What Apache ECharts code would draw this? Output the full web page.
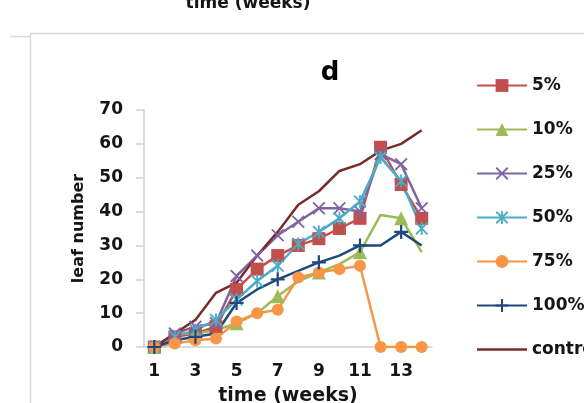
<!DOCTYPE html>
<html><head><meta charset="utf-8">
<script src="https://cdn.jsdelivr.net/npm/echarts@6/dist/echarts.min.js"></script>
<style>html,body{margin:0;padding:0;background:#fff}#c{width:584px;height:403px}</style>
</head><body><div id="c"></div>
<script>
// ---- data ----
const weeks = ['1','2','3','4','5','6','7','8','9','10','11','12','13','14'];
const seriesNames = ['5%','10%','25%','50%','75%','100%','control'];
const s5    = [0,3,4,6,17,23,27,30,32,35,38,59,48,38];
const s10   = [0,4,4,5,7,10,15,19.5,22,24.5,28,39,38,28];
const s25   = [0,4,6,7,21,27,33,37,41,41,40,57,54,41];
const s50   = [0,3,5,8,14,19.5,24,30.5,34,38,43,56,49,35];
const s75   = [0,1,2,2.5,7.5,10,11,20.5,22,23,24,0,0,0];
const s100  = [0,2,3,4,13,17,20,22.5,25,27,30,30,34,30];
const sCtrl = [0,4,8,16,19,27,34,42,46,52,54,58,60,64];
const yMin = 0, yMax = 70, yStep = 10;
const chartTitle = 'd';
const xName = 'time (weeks)';
const yName = 'leaf number';

// ---- styling ----
const FONT = 'DejaVu Sans';
const TXT = '#151515';
const colors = ['#C0504D','#9BBB59','#8064A2','#4BACC6','#F79646','#1F497D','#772C2A'];
const symX = 'path://M0,1L1,0L10,9L9,10ZM9,0L10,1L1,10L0,9Z';
const symStar = 'path://M0,1L1,0L10,9L9,10ZM9,0L10,1L1,10L0,9ZM4.3,0L5.7,0L5.7,10L4.3,10Z';
const symPlus = 'path://M4.2,0H5.8V4.2H10V5.8H5.8V10H4.2V5.8H0V4.2H4.2Z';
const symbols = ['rect','triangle',symX,symStar,'circle',symPlus,'none'];
const sizes = [13,14,13,13,12,14,0];
const dataSets = [s5,s10,s25,s50,s75,s100,sCtrl];

const series = dataSets.map((d,i)=>({
  name: seriesNames[i],
  type: 'line',
  data: d,
  symbol: symbols[i],
  symbolSize: sizes[i],
  showSymbol: symbols[i] !== 'none',
  lineStyle: {color: colors[i], width: 2.5},
  itemStyle: {color: colors[i]},
  emphasis: {disabled: true},
  animation: false
}));

const legendData = seriesNames.map((n,i)=> symbols[i]==='none'
  ? {name: n, icon: 'path://M0,0H100V5H0Z'}
  : {name: n});

const chart = echarts.init(document.getElementById('c'), null, {renderer:'canvas'});
chart.setOption({
  animation: false,
  backgroundColor: '#fff',
  textStyle: {fontFamily: FONT},
  grid: {left: 144, right: 152, top: 110, bottom: 56, containLabel: false, outerBoundsMode: 'none'},
  xAxis: {
    type: 'category', data: weeks, boundaryGap: true,
    name: xName, nameLocation: 'middle', nameGap: 40,
    nameTextStyle: {fontFamily: FONT, fontWeight: 'bold', fontSize: 19, color: TXT},
    axisLine: {lineStyle: {color: '#D0D0D0', width: 1.5}},
    axisTick: {show: false},
    axisLabel: {interval: 1, margin: 16, fontFamily: FONT, fontWeight: 'bold', fontSize: 17, color: TXT},
    splitLine: {show: false}
  },
  yAxis: {
    type: 'value', min: yMin, max: yMax, interval: yStep,
    name: yName, nameLocation: 'middle', nameGap: 57, nameRotate: 90,
    nameTextStyle: {fontFamily: FONT, fontWeight: 'bold', fontSize: 16, color: TXT},
    axisLine: {show: true, lineStyle: {color: '#D0D0D0', width: 1.5}},
    axisTick: {show: true, inside: false, length: 8, lineStyle: {color: '#D0D0D0', width: 1.5}},
    axisLabel: {margin: 21, fontFamily: FONT, fontWeight: 'bold', fontSize: 17, color: TXT},
    splitLine: {show: false}
  },
  legend: {
    orient: 'vertical', left: 471, top: 72,
    itemWidth: 50, itemHeight: 16, itemGap: 27,
    symbolKeepAspect: true,
    textStyle: {fontFamily: FONT, fontWeight: 'bold', fontSize: 17, color: TXT, lineHeight: 16},
    data: legendData
  },
  graphic: [
    {type:'line', shape:{x1:30,y1:33.5,x2:584,y2:33.5}, style:{stroke:'#D9D9D9', lineWidth:1.5}, silent:true},
    {type:'line', shape:{x1:30.5,y1:33,x2:30.5,y2:403}, style:{stroke:'#D9D9D9', lineWidth:1.5}, silent:true},
    {type:'line', shape:{x1:10,y1:36.5,x2:30,y2:36.5}, style:{stroke:'#D9D9D9', lineWidth:1.5}, silent:true},
    {type:'text', x: 248, y: 12, style:{text: xName, fontFamily: FONT, fontWeight:'bold', fontSize: 17, fill: TXT, textAlign:'center', textVerticalAlign:'bottom'}, silent:true},
    {type:'text', x: 330, y: 73, style:{text: chartTitle, fontFamily: FONT, fontWeight:'bold', fontSize: 26, fill: '#000', textAlign:'center', textVerticalAlign:'middle'}, silent:true}
  ],
  series: series
});
</script>
</body></html>
